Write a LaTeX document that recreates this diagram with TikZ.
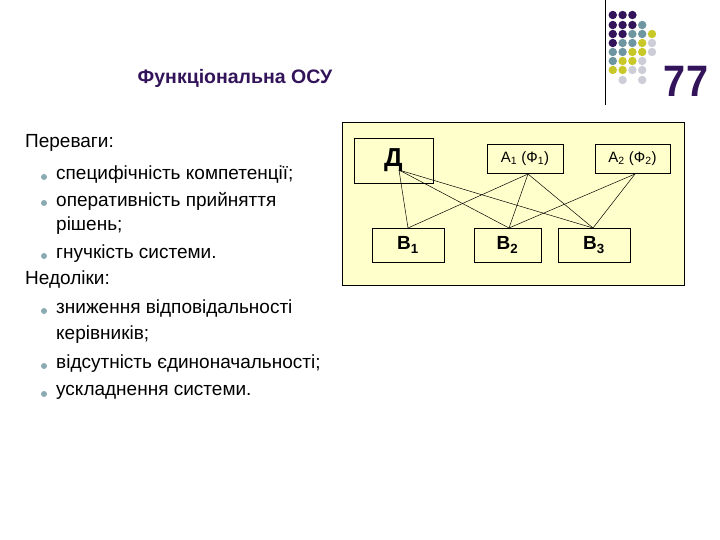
\documentclass[tikz,border=0pt]{standalone}
\usepackage{fontspec}
\setmainfont{Liberation Sans}
\definecolor{pur}{RGB}{51,20,90}
\definecolor{teal1}{RGB}{110,150,160}
\definecolor{yel}{RGB}{200,200,40}
\definecolor{lgr}{RGB}{205,205,215}
\definecolor{panel}{RGB}{255,255,204}
\newcommand{\sbs}[1]{\textsubscript{#1}}
\begin{document}
\begin{tikzpicture}[x=1pt,y=-1pt,
  bx/.style={draw=black,fill=panel,inner sep=0pt,font=\fontsize{19}{22}\selectfont\bfseries},
  txt/.style={anchor=west,inner sep=0pt,font=\fontsize{19}{22}\selectfont},
  bul/.style={circle,fill=teal1!80,inner sep=0pt,minimum size=6pt},
  ln/.style={draw=black,line width=0.5pt}]
\useasboundingbox[fill=white] (0,0) rectangle (720,540);
% dots
\foreach \r/\row in {15/{1,1,1},25/{1,1,1,2},34/{1,1,2,2,3},43/{1,2,2,3,4},52/{2,2,3,3,4},61/{2,3,3,4},70/{3,3,4,4}}{
  \foreach \c [count=\i] in \row {
    \ifcase\c\or\def\cc{pur}\or\def\cc{teal1}\or\def\cc{yel}\or\def\cc{lgr}\fi
    \fill[\cc] ({603+\i*9.8},\r) circle (4.2);
  }}
\fill[lgr] (622.6,80) circle (4.2);
\fill[lgr] (642.2,80) circle (4.2);
\draw[line width=1pt] (605,0) -- (605,105);
\node[font=\fontsize{44}{44}\selectfont\bfseries,text=pur,inner sep=0pt,xscale=0.9] (num) at (686,81) {77};
\node[font=\fontsize{19.5}{22}\selectfont\bfseries,text=pur,inner sep=0pt] (title) at (235,78) {Функціональна ОСУ};
% left text
\node[txt] (t0) at (25,143) {Переваги:};
\node[bul] (b1) at (44,177) {}; \node[txt] (t1) at (56,175) {специфічність компетенції;};
\node[bul] (b2) at (44,203) {}; \node[txt] (t2) at (56,201) {оперативність прийняття};
\node[txt] (t2b) at (56,226) {рішень;};
\node[bul] (b3) at (44,256) {}; \node[txt] (t3) at (56,254) {гнучкість системи.};
\node[txt] (t4) at (25,280) {Недоліки:};
\node[bul] (b5) at (44,311) {}; \node[txt] (t5) at (56,309) {зниження відповідальності};
\node[txt] (t5b) at (56,335) {керівників;};
\node[bul] (b6) at (44,366) {}; \node[txt] (t6) at (56,364) {відсутність єдиноначальності;};
\node[bul] (b7) at (44,394) {}; \node[txt] (t7) at (56,392) {ускладнення системи.};
% panel
\draw[fill=panel,line width=0.8pt] (342,122) rectangle (684,285);
\node[bx,minimum width=79pt,minimum height=45pt,font=\fontsize{26}{26}\selectfont\bfseries] (D) at (393.5,160.5) {Д};
\node[bx,minimum width=76pt,minimum height=29pt,font=\fontsize{15}{17}\selectfont] (A1) at (525,158.5) {А\sbs{1} (Ф\sbs{1})};
\node[bx,minimum width=75pt,minimum height=29pt,font=\fontsize{15}{17}\selectfont] (A2) at (632.5,158.5) {А\sbs{2} (Ф\sbs{2})};
\node[bx,minimum width=72pt,minimum height=34pt] (B1) at (408,245) {В\sbs{1}};
\node[bx,minimum width=67pt,minimum height=34pt] (B2) at (507.5,245) {В\sbs{2}};
\node[bx,minimum width=72pt,minimum height=34pt] (B3) at (594,245) {В\sbs{3}};
\coordinate (d) at (399,170);
\coordinate (a1) at (528,174);
\coordinate (a2) at (635,174);
\coordinate (b1t) at (408,228);
\coordinate (b2t) at (509,228);
\coordinate (b3t) at (593,228);
\draw[ln] (d) -- (b1t); \draw[ln] (d) -- (b2t); \draw[ln] (d) -- (b3t);
\draw[ln] (a1) -- (b1t); \draw[ln] (a1) -- (b2t); \draw[ln] (a1) -- (b3t);
\draw[ln] (a2) -- (b2t); \draw[ln] (a2) -- (b3t);
\end{tikzpicture}
\end{document}
